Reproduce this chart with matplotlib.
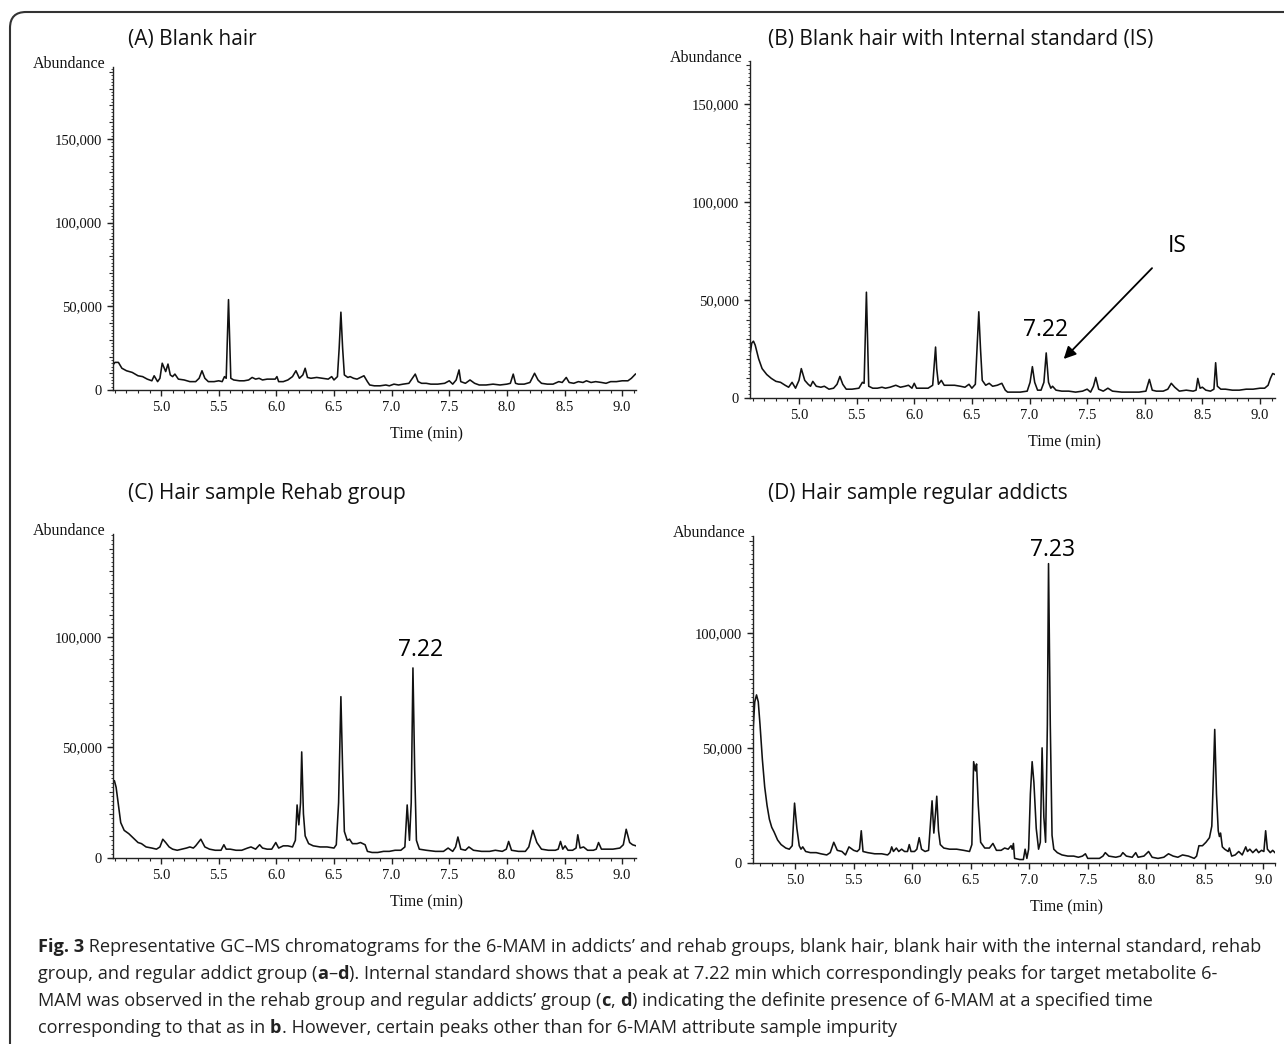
import numpy as np
import matplotlib
matplotlib.use('Agg')
import matplotlib.pyplot as plt
from matplotlib.patches import FancyBboxPatch
from matplotlib.transforms import IdentityTransform
from matplotlib.ticker import MultipleLocator, FuncFormatter, NullFormatter

W, H = 1284, 1044

# traced chromatograms: (time in min, abundance in thousands)
trace_a = [(4.583, 15), (4.60, 16.5), (4.63, 16.5), (4.66, 13), (4.70, 11.5), (4.75, 10.5), (4.80, 8.5),
           (4.84, 8), (4.88, 6.5), (4.92, 5.5), (4.94, 8.5), (4.97, 5), (4.99, 7), (5.01, 16), (5.04, 11),
           (5.06, 15.5), (5.08, 9), (5.10, 8), (5.12, 9.5), (5.15, 6.5), (5.20, 6), (5.25, 5), (5.30, 5),
           (5.33, 7), (5.355, 11.5), (5.38, 7), (5.41, 5), (5.46, 5), (5.50, 5.5), (5.53, 5), (5.55, 8),
           (5.565, 7), (5.575, 30), (5.585, 54), (5.595, 30), (5.605, 7), (5.63, 6), (5.68, 5.5), (5.72, 5.5),
           (5.76, 6), (5.79, 7.5), (5.82, 6.5), (5.85, 7), (5.88, 6), (5.92, 6.5), (5.96, 6.5), (5.99, 6.5),
           (6.005, 8), (6.02, 5), (6.06, 5), (6.10, 6), (6.14, 8), (6.17, 11.5), (6.20, 7), (6.23, 9),
           (6.25, 13), (6.27, 7.5), (6.30, 7), (6.35, 7.5), (6.40, 7), (6.45, 6.5), (6.48, 8), (6.50, 6),
           (6.53, 8), (6.545, 25), (6.56, 46.5), (6.575, 25), (6.59, 9), (6.62, 7.5), (6.64, 8), (6.67, 7),
           (6.70, 6.5), (6.73, 7.5), (6.76, 8.5), (6.79, 5), (6.81, 3), (6.85, 2.5), (6.90, 2.5), (6.95, 3),
           (6.98, 2.5), (7.02, 3.5), (7.06, 3), (7.10, 3.5), (7.15, 4), (7.18, 7), (7.205, 9.5), (7.23, 5),
           (7.26, 4), (7.30, 4), (7.34, 3.5), (7.40, 3.5), (7.46, 4), (7.50, 5.5), (7.53, 3.5), (7.56, 6),
           (7.585, 12), (7.60, 5), (7.64, 4), (7.68, 6), (7.72, 4), (7.76, 3), (7.82, 3), (7.88, 3.5),
           (7.94, 3), (8.00, 3.5), (8.03, 4), (8.055, 9.5), (8.075, 4), (8.10, 3.5), (8.15, 3.5), (8.20, 4.5),
           (8.24, 10), (8.27, 6), (8.30, 4), (8.35, 3.5), (8.40, 3.5), (8.45, 5), (8.48, 4.5), (8.515, 7.5),
           (8.54, 4.5), (8.58, 4), (8.62, 5), (8.66, 4.5), (8.69, 5.5), (8.73, 4.5), (8.77, 5), (8.82, 4.5),
           (8.86, 4), (8.90, 5), (8.95, 5), (9.00, 5.5), (9.05, 5.5), (9.08, 7), (9.115, 9.5)]

trace_b = [(4.575, 22), (4.59, 28), (4.605, 29), (4.62, 27), (4.65, 20), (4.68, 15), (4.72, 12), (4.76, 10),
           (4.80, 8.5), (4.84, 8), (4.88, 6.5), (4.91, 5.5), (4.94, 8), (4.97, 5), (5.00, 9), (5.02, 15),
           (5.05, 9), (5.08, 7), (5.10, 6), (5.12, 8.5), (5.15, 6), (5.19, 5.5), (5.22, 6), (5.26, 4.5),
           (5.30, 5), (5.33, 7), (5.355, 11), (5.38, 7), (5.41, 4.5), (5.46, 4.5), (5.52, 5), (5.55, 8),
           (5.565, 7.5), (5.575, 30), (5.585, 54), (5.595, 30), (5.605, 6), (5.64, 5), (5.68, 5), (5.72, 5.5),
           (5.75, 5), (5.79, 5.5), (5.84, 6.5), (5.88, 5.5), (5.92, 6), (5.95, 6.5), (5.98, 5), (6.00, 7.5),
           (6.02, 5), (6.07, 5), (6.12, 5), (6.16, 6.5), (6.175, 18), (6.185, 26), (6.195, 15), (6.21, 7),
           (6.235, 9), (6.26, 6.5), (6.30, 6.5), (6.35, 6.5), (6.40, 6), (6.44, 5.5), (6.475, 7), (6.50, 5),
           (6.53, 7), (6.545, 25), (6.56, 44), (6.575, 25), (6.59, 9), (6.62, 6.5), (6.65, 7.5), (6.68, 6),
           (6.72, 6.5), (6.76, 7.5), (6.79, 4), (6.81, 3), (6.86, 3), (6.92, 3), (6.98, 3.5), (7.005, 8),
           (7.025, 16), (7.045, 8), (7.07, 4), (7.10, 4), (7.125, 8), (7.145, 23), (7.165, 8), (7.185, 5),
           (7.20, 6), (7.23, 4), (7.28, 3.5), (7.34, 3.5), (7.40, 3), (7.46, 3.5), (7.50, 4.5), (7.53, 3),
           (7.555, 6), (7.575, 10.5), (7.60, 4.5), (7.64, 3.5), (7.68, 5), (7.72, 3.5), (7.80, 3), (7.88, 3),
           (7.95, 3), (8.01, 3.5), (8.04, 9.5), (8.065, 4), (8.10, 3.5), (8.16, 3.5), (8.20, 4.5), (8.23, 7.5),
           (8.26, 5.5), (8.30, 3.5), (8.36, 4), (8.42, 3.5), (8.445, 4), (8.46, 10), (8.48, 5), (8.50, 5.5),
           (8.53, 4), (8.57, 3.5), (8.60, 4.5), (8.615, 18), (8.63, 6), (8.66, 4.5), (8.70, 4.5), (8.76, 4),
           (8.82, 4), (8.88, 4.5), (8.94, 4.5), (9.00, 5), (9.04, 5), (9.07, 6.5), (9.09, 10), (9.11, 12.5),
           (9.13, 12)]

trace_c = [(4.583, 34), (4.595, 35), (4.61, 32), (4.63, 24), (4.65, 16), (4.68, 12.5), (4.72, 11), (4.76, 9),
           (4.80, 7), (4.83, 6.5), (4.87, 5), (4.92, 4.5), (4.96, 4), (4.99, 5), (5.015, 8.5), (5.04, 7),
           (5.07, 5), (5.10, 4), (5.14, 3.5), (5.18, 4), (5.22, 4.5), (5.25, 5), (5.28, 4.5), (5.30, 5.5),
           (5.345, 8.5), (5.38, 5), (5.42, 4), (5.47, 3.5), (5.52, 3.5), (5.545, 6), (5.565, 4), (5.60, 4),
           (5.65, 3.5), (5.70, 3.5), (5.75, 4.5), (5.78, 5), (5.82, 4), (5.855, 6), (5.88, 4.5), (5.92, 4),
           (5.96, 4), (5.995, 7), (6.02, 4.5), (6.06, 5.5), (6.10, 5.5), (6.14, 5), (6.165, 8), (6.18, 24),
           (6.195, 15), (6.21, 25), (6.22, 48), (6.235, 20), (6.25, 10), (6.28, 6.5), (6.32, 5.5), (6.38, 5),
           (6.44, 5), (6.50, 4.5), (6.52, 6), (6.54, 25), (6.56, 73), (6.575, 40), (6.59, 12), (6.615, 8),
           (6.635, 8.5), (6.66, 6.5), (6.70, 6.5), (6.73, 7), (6.77, 6), (6.79, 3), (6.83, 2.5), (6.88, 2.5),
           (6.93, 3), (6.98, 3), (7.03, 3.5), (7.08, 3.5), (7.115, 5), (7.135, 24), (7.155, 8), (7.17, 25),
           (7.185, 86), (7.20, 40), (7.215, 8), (7.24, 4), (7.30, 3.5), (7.38, 3), (7.45, 3), (7.49, 4.5),
           (7.53, 3), (7.555, 5), (7.575, 9.5), (7.60, 4), (7.64, 3.5), (7.67, 5), (7.71, 3.5), (7.78, 3),
           (7.85, 3), (7.90, 3.5), (7.96, 3), (7.995, 4), (8.015, 7.5), (8.04, 3.5), (8.10, 3), (8.16, 3),
           (8.19, 5), (8.225, 12.5), (8.26, 7), (8.30, 4), (8.36, 3.5), (8.42, 3.5), (8.445, 4), (8.465, 7.5),
           (8.485, 4), (8.505, 5.5), (8.53, 3.5), (8.57, 3.5), (8.60, 4.5), (8.615, 10.5), (8.635, 4.5),
           (8.665, 5), (8.70, 3.5), (8.75, 3.5), (8.775, 4), (8.795, 7), (8.82, 4), (8.86, 4), (8.92, 4),
           (8.98, 4.5), (9.01, 6), (9.035, 13), (9.065, 7), (9.09, 6), (9.12, 5.5)]

trace_d = [(4.64, 57), (4.655, 70), (4.67, 73), (4.685, 70), (4.70, 60), (4.72, 45), (4.74, 33), (4.76, 25),
           (4.78, 19), (4.80, 15.5), (4.82, 13.5), (4.85, 10), (4.88, 8), (4.92, 6.5), (4.95, 6), (4.975, 7.5),
           (4.995, 26), (5.015, 15), (5.035, 7.5), (5.05, 6), (5.065, 7), (5.09, 5), (5.13, 4.5), (5.18, 4.5),
           (5.22, 4), (5.27, 3.5), (5.30, 4.5), (5.33, 9), (5.36, 5.5), (5.40, 5), (5.43, 3.5), (5.46, 7),
           (5.50, 5.5), (5.53, 5), (5.55, 6), (5.565, 14), (5.58, 5), (5.62, 4.5), (5.68, 4), (5.74, 4),
           (5.79, 3.5), (5.81, 4.5), (5.825, 7), (5.84, 5), (5.865, 6.5), (5.885, 5), (5.91, 6), (5.935, 5),
           (5.96, 5), (5.975, 8), (5.99, 5), (6.02, 5), (6.04, 6), (6.06, 11), (6.08, 6), (6.11, 5),
           (6.14, 5.5), (6.16, 20), (6.17, 27), (6.185, 13), (6.20, 22), (6.21, 29), (6.225, 14), (6.24, 8),
           (6.27, 6.5), (6.32, 6), (6.38, 6), (6.44, 5.5), (6.49, 5), (6.51, 8), (6.525, 44), (6.54, 40),
           (6.55, 43), (6.565, 25), (6.585, 9), (6.62, 6.5), (6.66, 6.5), (6.69, 8.5), (6.72, 5.5), (6.76, 5.5),
           (6.79, 6.5), (6.82, 6), (6.845, 7.5), (6.855, 6), (6.865, 8.5), (6.875, 2), (6.92, 1.5), (6.95, 1.5),
           (6.965, 6), (6.98, 2), (6.995, 6), (7.01, 30), (7.025, 44), (7.04, 35), (7.06, 15), (7.08, 6),
           (7.095, 9), (7.11, 50), (7.125, 20), (7.14, 9), (7.155, 60), (7.165, 130), (7.18, 60), (7.195, 12),
           (7.21, 6), (7.24, 4.5), (7.28, 3.5), (7.33, 3), (7.38, 3), (7.42, 2.5), (7.455, 3), (7.48, 4),
           (7.50, 2), (7.55, 2), (7.60, 2), (7.63, 3), (7.65, 4.5), (7.68, 3), (7.74, 2.5), (7.78, 3),
           (7.80, 4.5), (7.83, 3), (7.88, 2.5), (7.91, 4.5), (7.93, 2.5), (7.98, 3), (8.02, 5), (8.05, 2.5),
           (8.10, 2), (8.15, 2.5), (8.19, 4), (8.23, 3), (8.27, 2.5), (8.31, 3.5), (8.36, 3), (8.41, 2),
           (8.43, 3), (8.45, 7.5), (8.48, 7.5), (8.51, 9), (8.54, 11), (8.56, 16), (8.575, 40), (8.585, 58),
           (8.60, 30), (8.615, 14), (8.625, 11.5), (8.635, 13), (8.65, 7), (8.67, 6), (8.70, 5), (8.71, 6.5),
           (8.73, 3), (8.76, 3.5), (8.79, 5), (8.82, 3.5), (8.85, 7), (8.865, 5), (8.885, 6), (8.91, 4.5),
           (8.94, 6), (8.96, 4.5), (8.985, 5.5), (9.005, 5), (9.02, 14), (9.035, 6), (9.06, 4.5), (9.08, 5.5),
           (9.10, 4.5)]

titles = ['(A) Blank hair', '(B) Blank hair with Internal standard (IS)',
          '(C) Hair sample Rehab group', '(D) Hair sample regular addicts']
x_ticks = [5.0, 5.5, 6.0, 6.5, 7.0, 7.5, 8.0, 8.5, 9.0]
y_ticks = [0, 50000, 100000, 150000]

caption = [
    [('Fig. 3', True), (' Representative GC\u2013MS chromatograms for the 6-MAM in addicts\u2019 and rehab groups, '
                       'blank hair, blank hair with the internal standard, rehab', False)],
    [('group, and regular addict group (', False), ('a', True), ('\u2013', False), ('d', True),
     ('). Internal standard shows that a peak at 7.22 min which correspondingly peaks for target metabolite 6-', False)],
    [('MAM was observed in the rehab group and regular addicts\u2019 group (', False), ('c', True), (', ', False),
     ('d', True), (') indicating the definite presence of 6-MAM at a specified time', False)],
    [('corresponding to that as in ', False), ('b', True),
     ('. However, certain peaks other than for 6-MAM attribute sample impurity', False)],
]

SANS = 'Open Sans'
SERIF = 'Liberation Serif'
INK = '#111111'

fig = plt.figure(figsize=(W / 100, H / 100), dpi=100)

def box(l, t, r, b):
    return [l / W, 1 - b / H, (r - l) / W, (b - t) / H]

# pixel boxes (left, top, right, bottom), x limits, y top, title position
panels = [
    (trace_a, box(113, 67, 636, 390), (4.583, 9.12), 193000, (128, 39)),
    (trace_b, box(750, 61, 1275, 398), (4.575, 9.13), 172000, (768, 39)),
    (trace_c, box(113, 534, 636, 858), (4.583, 9.12), 146600, (128, 493)),
    (trace_d, box(753, 536, 1275, 863), (4.64, 9.10), 142000, (768, 493)),
]

axes = []
for k, (trace, rect, xl, ytop, tpos) in enumerate(panels):
    ax = fig.add_axes(rect)
    t = np.array([p[0] for p in trace])
    a = np.array([p[1] for p in trace]) * 1000
    ax.plot(t, a, color=INK, lw=1.15)
    ax.set_xlim(*xl)
    ax.set_ylim(0, ytop)
    for s in ['top', 'right']:
        ax.spines[s].set_visible(False)
    for s in ['left', 'bottom']:
        ax.spines[s].set_linewidth(1.0)
        ax.spines[s].set_color('#222222')
    ax.set_xticks(x_ticks)
    ax.set_yticks([v for v in y_ticks if v < ytop])
    ax.xaxis.set_minor_locator(MultipleLocator(0.1))
    ax.yaxis.set_minor_locator(MultipleLocator(2000))
    ax.yaxis.set_major_formatter(FuncFormatter(lambda v, p: f'{int(v):,}'))
    ax.xaxis.set_major_formatter(FuncFormatter(lambda v, p: f'{v:.1f}'))
    ax.tick_params(which='major', length=4, width=1.0, pad=4, labelsize=10.5, color='#222222',
                   labelcolor=INK)
    ax.tick_params(axis='x', which='minor', length=2.5, width=0.8, color='#222222')
    ax.tick_params(axis='y', which='minor', length=1.3, width=0.7, color='#444444')
    for lab in ax.get_xticklabels() + ax.get_yticklabels():
        lab.set_family(SERIF)
    # 10k ticks on top of the fine dotted ticks
    sec = ax.secondary_yaxis('left')
    sec.yaxis.set_major_locator(MultipleLocator(10000))
    sec.yaxis.set_major_formatter(NullFormatter())
    sec.tick_params(length=2.8, width=0.8, color='#222222')
    sec.spines['left'].set_visible(False)
    ax.patch.set_alpha(0)

    fig.text(tpos[0] / W, 1 - tpos[1] / H, titles[k], family=SANS, fontsize=15,
             ha='left', va='center', color=INK)
    l = rect[0] * W
    top = (1 - rect[1] - rect[3]) * H
    fig.text((l - 8) / W, 1 - (top - 3) / H, 'Abundance', family=SERIF, fontsize=11.5,
             ha='right', va='center', color=INK)
    cx = l + rect[2] * W * 0.6
    fig.text(cx / W, 1 - ((1 - rect[1]) * H + 44) / H, 'Time (min)', family=SERIF, fontsize=11.5,
             ha='center', va='center', color=INK)
    axes.append(ax)

ax_a, ax_b, ax_c, ax_d = axes

# annotations
ax_b.text(7.14, 34500, '7.22', family=SANS, fontsize=16.5, ha='center', va='center')
ax_b.text(8.28, 77400, 'IS', family=SANS, fontsize=16.5, ha='center', va='center')
ax_b.annotate('', xy=(7.28, 18900), xytext=(8.08, 67300),
              arrowprops=dict(arrowstyle='-|>', color='black', lw=1.3, mutation_scale=18))
ax_c.text(7.25, 94300, '7.22', family=SANS, fontsize=16.5, ha='center', va='center')
ax_d.text(7.20, 136000, '7.23', family=SANS, fontsize=16.5, ha='center', va='center', clip_on=False)

# rounded outer border
border = FancyBboxPatch((10, -30), 1320, H - 12 + 30, boxstyle='round,pad=0,rounding_size=16',
                        transform=IdentityTransform(), fill=False, lw=1.5, ec='#333333')
fig.add_artist(border)

# caption with bold letters
renderer = fig.canvas.get_renderer()
y0 = 947
for i, parts in enumerate(caption):
    x = 38
    for s, bold in parts:
        txt = fig.text(x / W, 1 - (y0 + i * 27) / H, s, family=SANS, fontsize=13.1,
                       fontweight='bold' if bold else 'normal', ha='left', va='center', color='#222222')
        x += txt.get_window_extent(renderer=renderer).width

fig.savefig('out.png', dpi=100)
